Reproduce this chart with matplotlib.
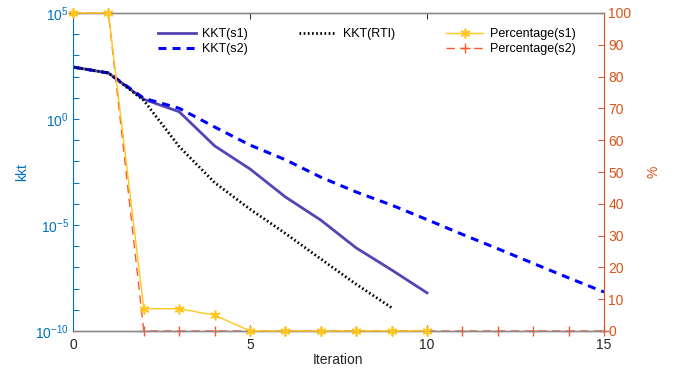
import numpy as np
import matplotlib
matplotlib.use("Agg")
import matplotlib.pyplot as plt
from matplotlib.ticker import FixedLocator, FuncFormatter, LogLocator
from matplotlib.lines import Line2D

plt.rcParams['font.family'] = ['Liberation Sans', 'DejaVu Sans']
plt.rcParams['mathtext.fontset'] = 'custom'
plt.rcParams['mathtext.rm'] = 'Liberation Sans'
plt.rcParams['mathtext.it'] = 'Liberation Sans:italic'
plt.rcParams['mathtext.bf'] = 'Liberation Sans:bold'

# KKT residual per iteration
iter_s1 = [0, 1, 2, 3, 4, 5, 6, 7, 8, 9, 10]
kkt_s1 = [282, 148, 8.5, 2.2, 5.4e-2, 4.4e-3, 2.1e-4, 1.7e-5, 8.3e-7, 7.6e-8, 6.3e-9]

iter_s2 = [0, 1, 2, 3, 4, 5, 6, 7, 8, 9, 10, 11, 12, 13, 14, 15]
kkt_s2 = [282, 148, 9.5, 3.2, 0.42, 5.9e-2, 1.2e-2, 1.8e-3, 3.6e-4, 8.7e-5,
          1.8e-5, 3.6e-6, 7.6e-7, 1.55e-7, 3.2e-8, 6.9e-9]

iter_rti = [0, 1, 2, 3, 4, 5, 6, 7, 8, 9]
kkt_rti = [282, 148, 7.5, 5.0e-2, 1.0e-3, 5.6e-5, 4.0e-6, 2.5e-7, 1.6e-8, 1.26e-9]

# Percentage per iteration
pct_s1 = [100, 100, 7, 7, 5, 0, 0, 0, 0, 0, 0]
pct_s2 = [100, 100, 0, 0, 0, 0, 0, 0, 0, 0, 0, 0, 0, 0, 0, 0]

x_ticks = [0, 5, 10, 15]
pct_ticks = [0, 10, 20, 30, 40, 50, 60, 70, 80, 90, 100]

C_LEFT = '#0072BD'
C_RIGHT = '#D95319'
C_S1 = '#5444B4'
C_S2 = '#0000FF'
C_RTI = '#000000'
C_P1 = '#FFC61E'
C_P2 = '#F8582E'
C_TEXT = '#262626'
C_BOX = '#8a8a8a'

fig = plt.figure(figsize=(6.8, 3.77), dpi=100)
ax = fig.add_axes([73 / 680, 1 - 331 / 377, (604 - 73) / 680, (331 - 13) / 377])
ax2 = ax.twinx()

l1, = ax.plot(iter_s1, kkt_s1, color=C_S1, lw=2.0, ls='-')
l2, = ax.plot(iter_s2, kkt_s2, color=C_S2, lw=2.2, ls=(0, (2.6, 2.0)))
l3, = ax.plot(iter_rti, kkt_rti, color=C_RTI, lw=2.0, ls=(0, (0.6, 0.9)))
ax.set_yscale('log')
ax.set_ylim(1e-10, 1e5)
ax.set_xlim(0, 15)

# asterisk markers for s1, plus markers for s2
l4, = ax2.plot(iter_s1, pct_s1, color=C_P1, lw=1.0, marker=(6, 2, 0), ms=7,
               mew=1.2, clip_on=False, zorder=3)
l5, = ax2.plot(iter_s2, pct_s2, color=C_P2, lw=1.0, ls=(0, (6, 4)),
               marker='+', ms=7, mew=1.0, clip_on=False, zorder=2)
ax2.set_ylim(0, 100)
ax2.set_xlim(0, 15)

# left axis: decade ticks, labels every 5 decades
ax.yaxis.set_major_locator(LogLocator(base=10, subs=(1.0,), numticks=30))
ax.yaxis.set_minor_locator(FixedLocator([]))


def decade_label(v, pos):
    e = int(round(np.log10(v)))
    return r'$10^{%d}$' % e if e % 5 == 0 else ''


ax.yaxis.set_major_formatter(FuncFormatter(decade_label))
ax.tick_params(axis='y', which='both', direction='in', length=4, width=0.7,
               colors=C_LEFT, labelsize=10, left=True, right=False, pad=3)
ax.set_xticks(x_ticks)
ax.tick_params(axis='x', direction='in', length=4, width=0.7, color=C_TEXT,
               labelcolor=C_TEXT, labelsize=10, top=True, bottom=True, pad=5)

ax2.yaxis.set_major_locator(FixedLocator(pct_ticks))
ax2.tick_params(axis='y', direction='in', length=4, width=0.7, colors=C_RIGHT,
                labelsize=10, pad=3)

for a in (ax, ax2):
    a.spines['top'].set_color(C_BOX)
    a.spines['bottom'].set_color(C_BOX)
    a.spines['top'].set_linewidth(1.0)
    a.spines['bottom'].set_linewidth(1.0)
ax.spines['left'].set_color(C_LEFT)
ax2.spines['left'].set_visible(False)
ax.spines['right'].set_visible(False)
ax2.spines['right'].set_color(C_RIGHT)

ax.set_xlabel('Iteration', fontsize=10, color=C_TEXT, labelpad=1)
ax.set_ylabel('kkt', fontsize=10, color=C_LEFT, labelpad=4)
ax2.set_ylabel('%', fontsize=10, color=C_RIGHT, labelpad=11)

blank = Line2D([], [], alpha=0)
handles = [l1, l2, l3, blank, l4, l5]
labels = ['KKT(s1)', 'KKT(s2)', 'KKT(RTI)', '', 'Percentage(s1)', 'Percentage(s2)']
ax2.legend(handles, labels, ncol=3, frameon=False, fontsize=9,
           loc='upper left', bbox_to_anchor=(158 / 680, 1 - 28 / 377),
           bbox_transform=fig.transFigure, borderpad=0, borderaxespad=0,
           handlelength=3.0, handletextpad=0.5, columnspacing=4.1,
           labelspacing=0.25)

fig.savefig('out.png', dpi=100)
